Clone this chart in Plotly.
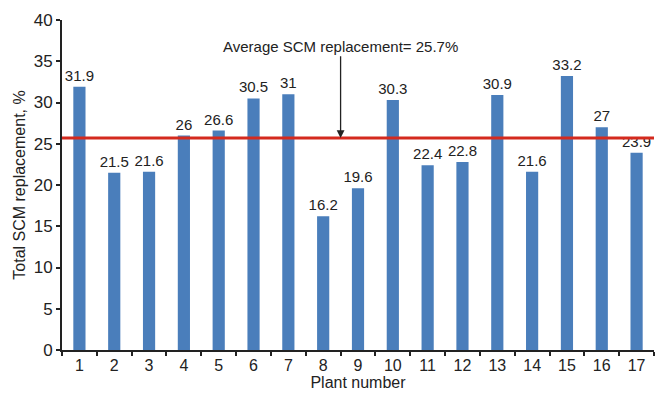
import plotly.graph_objects as go

plants = [str(i) for i in range(1, 18)]
scm_replacement = [31.9, 21.5, 21.6, 26, 26.6, 30.5, 31, 16.2, 19.6, 30.3,
                   22.4, 22.8, 30.9, 21.6, 33.2, 27, 23.9]
average_value = 25.7
y_ticks = [0, 5, 10, 15, 20, 25, 30, 35, 40]

FONT = "Liberation Sans Narrow, Arial Narrow, Liberation Sans, Arial, sans-serif"

fig = go.Figure()
fig.add_trace(go.Bar(
    x=plants, y=scm_replacement,
    marker=dict(color="#4a7ebb", line=dict(width=0)),
    width=0.35,
    text=[f"{v:g}" for v in scm_replacement],
    textposition="outside",
    constraintext="none",
    textfont=dict(size=15, color="#222222", family=FONT),
    cliponaxis=False,
))

# average line
fig.add_shape(type="line", xref="paper", x0=0, x1=1, yref="y",
              y0=average_value, y1=average_value,
              line=dict(color="#d42a1e", width=3))

# arrow and caption for the average
fig.add_annotation(x=7.5, y=average_value, ax=7.5, ay=35.8,
                   xref="x", yref="y", axref="x", ayref="y",
                   showarrow=True, arrowhead=2, arrowsize=1.2, arrowwidth=1.3,
                   arrowcolor="#222222", text="")
fig.add_annotation(x=7.5, y=36.8, xref="x", yref="y", showarrow=False,
                   text=f"Average SCM replacement= {average_value}%",
                   font=dict(size=15, color="#222222", family=FONT))

fig.update_layout(
    width=655, height=400,
    margin=dict(l=62, r=1, t=20, b=50),
    plot_bgcolor="white", paper_bgcolor="white",
    showlegend=False,
    bargap=0.65,
    font=dict(family=FONT, color="#222222", size=15),
)
fig.update_xaxes(
    type="category", range=[-0.5, 16.5],
    tickson="boundaries", ticks="outside", ticklen=4, tickwidth=1.5, tickcolor="#222222",
    showline=True, linecolor="#222222", linewidth=2,
    showgrid=False, zeroline=False,
    tickfont=dict(size=16, family=FONT),
    title=dict(text="Plant number", font=dict(size=16, family=FONT), standoff=2),
)
fig.update_yaxes(
    range=[0, 40], tickvals=y_ticks,
    ticks="outside", ticklen=4, tickwidth=1.5, tickcolor="#222222",
    showline=True, linecolor="#222222", linewidth=2,
    showgrid=False, zeroline=False,
    tickfont=dict(size=17, family=FONT),
    title=dict(text="Total SCM replacement, %", font=dict(size=16, family=FONT), standoff=4),
)

fig.write_html("out.html")
